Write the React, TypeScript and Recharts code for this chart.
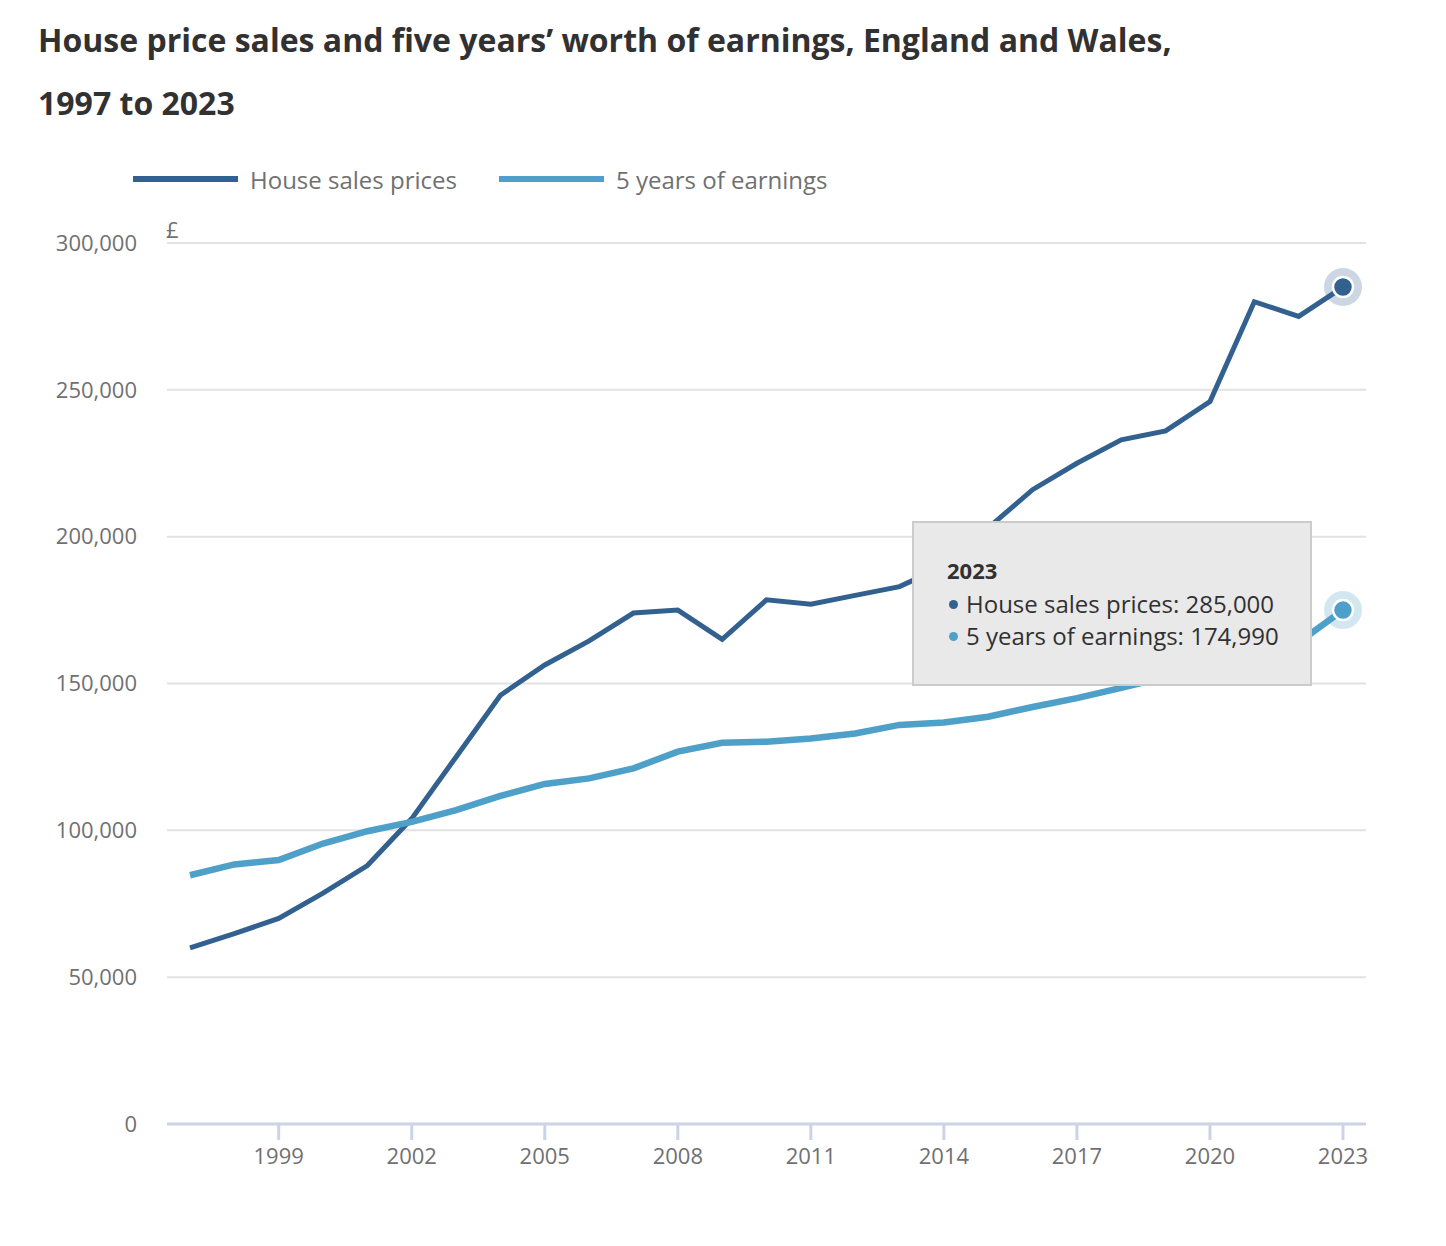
import { LineChart, Line, XAxis, YAxis, CartesianGrid, Tooltip } from 'recharts';

const years = [
  1997, 1998, 1999, 2000, 2001, 2002, 2003, 2004, 2005, 2006, 2007, 2008, 2009,
  2010, 2011, 2012, 2013, 2014, 2015, 2016, 2017, 2018, 2019, 2020, 2021, 2022, 2023,
];
const housePrices = [
  60000, 64800, 70000, 78600, 88000, 104000, 125000, 146000, 156300, 164500, 174000, 175000, 165000,
  178500, 177000, 180000, 183000, 190000, 203000, 216000, 225000, 233000, 236000, 246000, 280000, 275000, 285000,
];
const earnings5y = [
  84700, 88400, 89900, 95500, 99700, 102900, 106900, 111700, 115800, 117700, 121100, 126800, 129800,
  130200, 131300, 133000, 135900, 136700, 138700, 142000, 145000, 148500, 152200, 155500, 158000, 164000, 174990,
];
const xTicks = [1999, 2002, 2005, 2008, 2011, 2014, 2017, 2020, 2023];
const yTicks = [0, 50000, 100000, 150000, 200000, 250000, 300000];

const DARK = '#33618f';
const LIGHT = '#4ea0c9';
const GREY = '#707071';

const data = years.map((year, i) => ({
  year,
  house: housePrices[i],
  earnings: earnings5y[i],
}));

const fmt = (v: any) => (typeof v === 'number' ? v.toLocaleString('en-GB') : String(v ?? ''));

function HaloDot(color: string) {
  return (props: any) => {
    const { cx, cy } = props;
    if (cx == null || cy == null) return <g />;
    return (
      <g>
        <circle cx={cx} cy={cy} r={19} fill={color} fillOpacity={0.25} />
        <circle cx={cx} cy={cy} r={10} fill={color} stroke="#fff" strokeWidth={2.5} />
      </g>
    );
  };
}

function TipBox({ payload, label }: any) {
  if (!payload || !payload.length) return null;
  const year = payload[0]?.payload?.year ?? label;
  return (
    <div
      style={{
        width: 400,
        height: 165,
        boxSizing: 'border-box',
        background: '#e9e9e9',
        border: '2px solid #cccccc',
        padding: '31px 0 0 33px',
        color: '#323132',
        fontFamily: "'Open Sans', sans-serif",
        fontSize: 24,
        lineHeight: '32px',
      }}
    >
      <div style={{ fontWeight: 700, fontSize: 22, marginBottom: 2 }}>{year}</div>
      {payload.map((r: any) => (
        <div key={r.name} style={{ display: 'flex', alignItems: 'center' }}>
          <span
            style={{
              display: 'inline-block',
              width: 9,
              height: 9,
              borderRadius: '50%',
              background: r.color,
              marginRight: 8,
              marginLeft: 2,
            }}
          />
          {r.name}: {fmt(r.value)}
        </div>
      ))}
    </div>
  );
}

const legendItems = [
  { name: 'House sales prices', color: DARK },
  { name: '5 years of earnings', color: LIGHT },
];

export default function App() {
  return (
    <div style={{ position: 'relative', width: 1430, height: 1230, fontFamily: "'Open Sans', sans-serif" }}>
      <div
        style={{
          position: 'absolute',
          left: 30,
          top: 0,
          fontSize: 32,
          fontWeight: 700,
          lineHeight: '63px',
          color: '#323132',
          whiteSpace: 'nowrap',
        }}
      >
        House price sales and five years’ worth of earnings, England and Wales,
        <br />
        1997 to 2023
      </div>
      <div style={{ position: 'absolute', left: 125, top: 156, height: 30, display: 'flex', alignItems: 'center' }}>
        {legendItems.map((it) => (
          <div key={it.name} style={{ display: 'flex', alignItems: 'center', marginRight: 42 }}>
            <span style={{ display: 'inline-block', width: 105, height: 6, background: it.color, marginRight: 12 }} />
            <span style={{ fontSize: 24, color: GREY }}>{it.name}</span>
          </div>
        ))}
      </div>
      <div style={{ position: 'absolute', left: 158, top: 206, fontSize: 22, color: GREY }}>£</div>
      <div style={{ position: 'absolute', left: 0, top: 0 }}>
        <LineChart width={1430} height={1230} data={data} margin={{ top: 235, right: 72, bottom: 54, left: 0 }}>
          <CartesianGrid vertical={false} stroke="#e2e2e2" strokeWidth={2} />
          <XAxis
            dataKey="year"
            type="number"
            domain={['dataMin', 'dataMax']}
            padding={{ left: 23, right: 23 }}
            ticks={xTicks}
            allowDecimals={false}
            stroke="#cbd4e6"
            strokeWidth={3}
            tickSize={16}
            tickMargin={8}
            tick={{ fill: GREY, fontSize: 22 }}
            height={60}
          />
          <YAxis
            domain={[0, 300000]}
            ticks={yTicks}
            axisLine={false}
            tickLine={false}
            tickSize={6}
            tickMargin={24}
            width={159}
            tickFormatter={fmt}
            tick={{ fill: GREY, fontSize: 22 }}
          />
          <Tooltip
            defaultIndex={26}
            cursor={false}
            position={{ x: 904, y: 513 }}
            content={<TipBox />}
            wrapperStyle={{ outline: 'none' }}
            isAnimationActive={false}
          />
          <Line
            type="linear"
            dataKey="house"
            name="House sales prices"
            stroke={DARK}
            strokeWidth={5}
            dot={false}
            activeDot={HaloDot(DARK)}
            isAnimationActive={false}
          />
          <Line
            type="linear"
            dataKey="earnings"
            name="5 years of earnings"
            stroke={LIGHT}
            strokeWidth={6.5}
            dot={false}
            activeDot={HaloDot(LIGHT)}
            isAnimationActive={false}
          />
        </LineChart>
      </div>
    </div>
  );
}
